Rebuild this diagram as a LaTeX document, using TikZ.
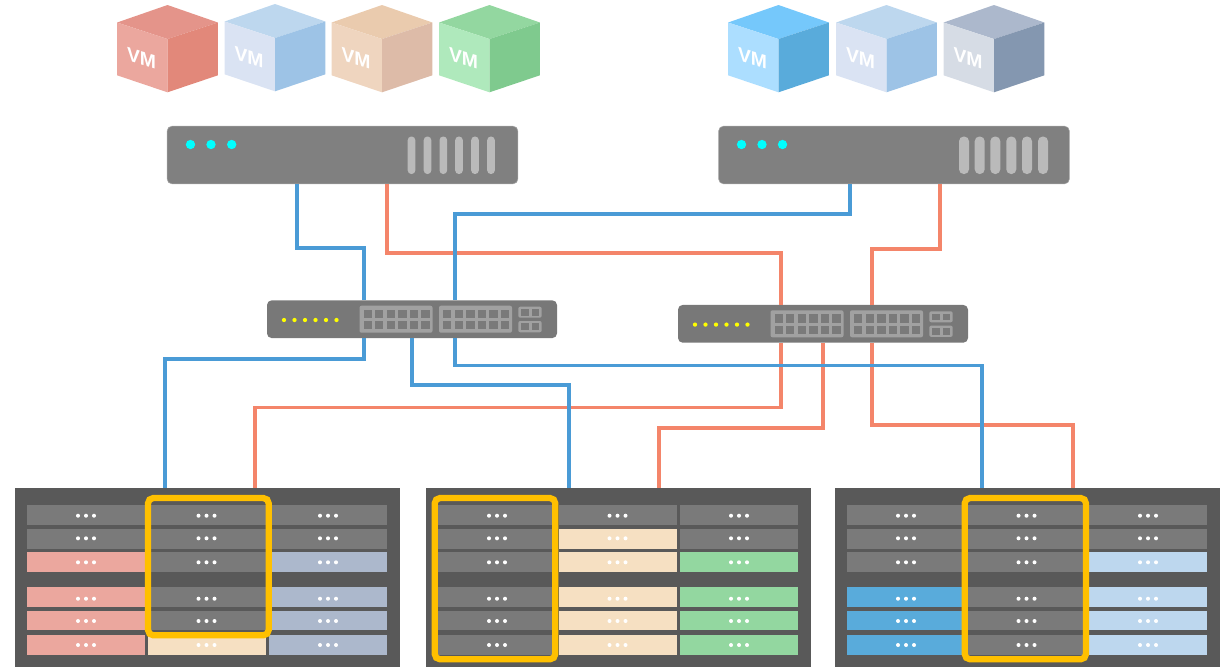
\documentclass[tikz,border=0pt]{standalone}
\usepackage{fontspec}
\setsansfont{Liberation Sans}
\usetikzlibrary{arrows, shapes}
\definecolor{c_grey}{HTML}{7A7A7A}
\definecolor{c_red}{HTML}{EBA79E}
\definecolor{c_peach}{HTML}{F6E0C2}
\definecolor{c_slate}{HTML}{ACB8CC}
\definecolor{c_green}{HTML}{93D7A0}
\definecolor{c_sky}{HTML}{59ABDB}
\definecolor{c_pale}{HTML}{BDD7EE}
\definecolor{c_cyan}{HTML}{00FFFF}
\definecolor{c_yell}{HTML}{FFFF00}
\definecolor{wire_b}{HTML}{4A9BD6}
\definecolor{wire_o}{HTML}{F4856A}
% cube: name, centre x, top y, top/left/right colours
\newcommand{\vmcube}[6]{
	\fill[fill=#4] (#2,#3) -- (#2+50.4,#3+17.5) -- (#2,#3+34) -- (#2-50.4,#3+17.5) -- cycle;
	\fill[fill=#5] (#2-50.4,#3+17.5) -- (#2,#3+34) -- (#2,#3+87.3) -- (#2-50.4,#3+70.3) -- cycle;
	\fill[fill=#6] (#2+50.4,#3+17.5) -- (#2,#3+34) -- (#2,#3+87.3) -- (#2+50.4,#3+70.3) -- cycle;
	\node [vm_text] (#1) at (#2-26,#3+53) {VM};
}
% ports of a switch, dx and dy from the first one
\newcommand{\swports}[2]{
	\begin{scope}[shift={(#1,#2)}]
	\foreach \px in {284,294.5,305,315.5,326,336.5}
		\fill[c_yell] (\px,320) circle (1.6pt);
	\foreach \bx in {359.5,439} {
		\fill[port_frame] (\bx,305.7) rectangle (\bx+73,332.7);
		\foreach \i in {0,...,5} {
			\fill[c_grey] (\bx+4+11.55*\i,309.6) rectangle +(8.4,8.4);
			\fill[c_grey] (\bx+4+11.55*\i,321) rectangle +(8.4,8.4);
		}
	}
	\fill[port_frame] (518.3,306.7) rectangle (541.7,317.7);
	\fill[port_frame] (518.3,321) rectangle (541.7,332.3);
	\foreach \i in {0,1} {
		\fill[c_grey] (520.9+10.7*\i,308.9) rectangle +(7.6,6.8);
		\fill[c_grey] (520.9+10.7*\i,323.3) rectangle +(7.6,6.8);
	}
	\end{scope}
}
% one column of a rack: left x, then six colours
\newcommand{\rackcol}[7]{
	\foreach \ya/\yb/\yd/\cc in {505/525/515.7/#2,529/549/538.3/#3,552/572/562.3/#4,587/607/598.7/#5,611/630/621/#6,635/655/645/#7} {
		\fill[fill=\cc] (#1,\ya) rectangle (#1+118.2,\yb);
		\foreach \d in {-8,0,8}
			\fill[white] (#1+59+\d,\yd) circle (1.5pt);
	}
}
\begin{document}
\begin{tikzpicture}[x=0.75pt, y=-0.75pt]
\tikzstyle{server}=[rectangle, rounded corners=3.5pt, draw=black!35, line width=0.4pt, fill=black!50, inner sep=0pt, minimum width=263pt, minimum height=43.2pt]
\tikzstyle{switch}=[rectangle, rounded corners=3.5pt, fill=black!53, inner sep=0pt, minimum width=217.5pt, minimum height=28.3pt]
\tikzstyle{rack}=[rectangle, fill=black!65, inner sep=0pt, minimum width=288.75pt, minimum height=134.25pt]
\tikzstyle{vm_text}=[white, inner sep=0pt, yslant=-0.3, font=\sffamily\bfseries\fontsize{14.5}{14.5}\selectfont]
\tikzstyle{port_frame}=[fill=black!37, rounded corners=1.5pt]
\tikzstyle{blue_wire}=[draw=wire_b, line width=2.3pt]
\tikzstyle{oran_wire}=[draw=wire_o, line width=2.3pt]
\tikzstyle{group_box}=[draw={rgb,255:red,255;green,192;blue,0}, line width=4.7pt, rounded corners=4pt]
\useasboundingbox (0,0) rectangle (1230,669);
%
\begin{scope}

\vmcube{vmA}{167.5}{5}{{rgb,255:red,228;green,148;blue,138}}{c_red}{{rgb,255:red,226;green,136;blue,122}}
\vmcube{vmB}{275}{4}{c_pale}{{rgb,255:red,218;green,227;blue,243}}{{rgb,255:red,157;green,195;blue,230}}
\vmcube{vmC}{382}{5}{{rgb,255:red,234;green,203;blue,174}}{{rgb,255:red,239;green,213;blue,191}}{{rgb,255:red,221;green,187;blue,168}}
\vmcube{vmD}{489.5}{5}{c_green}{{rgb,255:red,175;green,233;blue,188}}{{rgb,255:red,127;green,202;blue,142}}
\vmcube{vmE}{778.5}{5}{{rgb,255:red,117;green,200;blue,251}}{{rgb,255:red,172;green,222;blue,255}}{c_sky}
\vmcube{vmF}{886.5}{5}{c_pale}{{rgb,255:red,218;green,227;blue,243}}{{rgb,255:red,157;green,195;blue,230}}
\vmcube{vmG}{994}{5}{c_slate}{{rgb,255:red,214;green,220;blue,229}}{{rgb,255:red,132;green,151;blue,176}}
%
\node [server] (srvA) at (342.5,155) {};
\node [server] (srvB) at (894,155) {};
\foreach \dx in {190.5,211,231.7}
	\fill[c_cyan] (\dx,144.5) circle (3.5pt);
\foreach \dx in {741.5,762,782.5}
	\fill[c_cyan] (\dx,144.5) circle (3.5pt);
\foreach \bx in {411.5,427.5,443.3,459,475,491}
	\fill[black!27, rounded corners=2.7pt] (\bx-3.8,136.5) rectangle (\bx+3.8,174);
\foreach \bx in {964,979.7,995.3,1011.3,1027,1043}
	\fill[black!27, rounded corners=3.5pt] (\bx-5,136.5) rectangle (\bx+5,174);
%
\node [switch] (swA) at (412,319.2) {};
\node [switch] (swB) at (823,323.8) {};
\swports{0}{0}
\swports{411}{4.6}
%
\node [rack] (rackA) at (207.5,577.5) {};
\node [rack] (rackB) at (618.5,577.5) {};
\node [rack] (rackC) at (1027.5,577.5) {};
%
\rackcol{27}{c_grey}{c_grey}{c_red}{c_red}{c_red}{c_red}
\rackcol{147.5}{c_grey}{c_grey}{c_grey}{c_grey}{c_grey}{c_peach}
\rackcol{269}{c_grey}{c_grey}{c_slate}{c_slate}{c_slate}{c_slate}
\rackcol{438}{c_grey}{c_grey}{c_grey}{c_grey}{c_grey}{c_grey}
\rackcol{558.5}{c_grey}{c_peach}{c_peach}{c_peach}{c_peach}{c_peach}
\rackcol{680}{c_grey}{c_grey}{c_green}{c_green}{c_green}{c_green}
\rackcol{847}{c_grey}{c_grey}{c_grey}{c_sky}{c_sky}{c_sky}
\rackcol{967.5}{c_grey}{c_grey}{c_grey}{c_grey}{c_grey}{c_grey}
\rackcol{1089}{c_grey}{c_grey}{c_pale}{c_pale}{c_pale}{c_pale}
%
\draw [group_box] (148,498) rectangle (268.7,635.3);
\draw [group_box] (434.7,498) rectangle (555.3,659.3);
\draw [group_box] (964.7,498) rectangle (1086,659.3);
%
\draw [oran_wire] (387,0 |- srvA.south) -- (387,253) -- (781,253) -- (781,0 |- swB.north);
\draw [oran_wire] (940,0 |- srvB.south) -- (940,249) -- (872,249) -- (872,0 |- swB.north);
\draw [oran_wire] (781,0 |- swB.south) -- (781,407.5) -- (255,407.5) -- (255,0 |- rackA.north);
\draw [oran_wire] (823,0 |- swB.south) -- (823,428) -- (659,428) -- (659,0 |- rackB.north);
\draw [oran_wire] (872,0 |- swB.south) -- (872,425) -- (1073,425) -- (1073,0 |- rackC.north);
%
\draw [blue_wire] (297,0 |- srvA.south) -- (297,248) -- (364,248) -- (364,0 |- swA.north);
\draw [blue_wire] (850,0 |- srvB.south) -- (850,214) -- (455,214) -- (455,0 |- swA.north);
\draw [blue_wire] (364,0 |- swA.south) -- (364,359) -- (165,359) -- (165,0 |- rackA.north);
\draw [blue_wire] (412,0 |- swA.south) -- (412,385) -- (569,385) -- (569,0 |- rackB.north);
\draw [blue_wire] (455,0 |- swA.south) -- (455,365.5) -- (982,365.5) -- (982,0 |- rackC.north);

\end{scope}
%
\end{tikzpicture}
\end{document}
